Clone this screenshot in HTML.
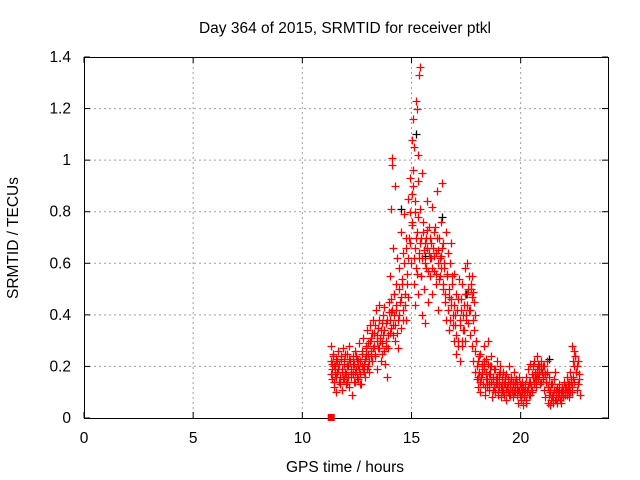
<!DOCTYPE html>
<html><head><meta charset="utf-8"><style>
html,body{margin:0;padding:0;background:#fff;}
svg{display:block;font-family:"Liberation Sans",Arial,sans-serif;}
</style></head><body>
<svg id="chart" width="640" height="480" xmlns="http://www.w3.org/2000/svg">
<rect width="640" height="480" fill="#fff"/>
<text x="345" y="33" font-size="15.5" text-anchor="middle">Day 364 of 2015, SRMTID for receiver ptkl</text>
<text x="345" y="472" font-size="15.5" text-anchor="middle">GPS time / hours</text>
<text x="18" y="238" font-size="15.5" text-anchor="middle" transform="rotate(-90 18 238)">SRMTID / TECUs</text>
<g id="grid"></g>
<g id="axes"></g>
<g id="black-series"></g>
<g id="red-series"></g>
</svg>
<script>
const xTicks = [0, 5, 10, 15, 20];
const yTicks = [0, 0.2, 0.4, 0.6, 0.8, 1, 1.2, 1.4];
const yTickLabels = ["0", "0.2", "0.4", "0.6", "0.8", "1", "1.2", "1.4"];
const redT = [11.30,11.32,11.35,11.38,11.40,11.43,11.46,11.50,11.53,11.56,11.60,11.63,11.66,11.70,11.73,11.76,11.80,11.83,11.86,11.90,11.93,11.96,12.00,12.03,12.06,12.10,12.13,12.16,12.20,12.23,12.26,12.30,12.33,12.36,12.40,12.43,12.46,12.50,12.53,12.56,12.60,12.63,12.66,12.70,12.73,12.76,12.80,12.83,12.86,12.90,12.93,12.96,13.00,13.03,13.06,13.10,13.13,13.16,13.20,13.23,13.26,13.30,13.33,13.36,13.40,13.43,13.46,13.50,13.53,13.56,13.60,13.63,13.66,13.70,13.73,13.76,13.80,13.83,13.86,13.90,13.93,13.96,14.00,14.03,14.06,14.08,14.10,14.12,14.14,14.16,14.20,14.23,14.26,14.28,14.30,14.33,14.36,14.40,14.43,14.46,14.50,14.53,14.56,14.60,14.63,14.66,14.70,14.73,14.76,14.80,14.83,14.86,14.90,14.93,14.96,15.00,15.02,15.04,15.06,15.08,15.10,15.12,15.14,15.16,15.18,15.20,15.22,15.24,15.26,15.28,15.30,15.32,15.34,15.36,15.38,15.40,15.42,15.44,15.46,15.48,15.50,15.53,15.56,15.60,15.63,15.66,15.70,15.73,15.76,15.80,15.83,15.86,15.90,15.93,15.96,16.00,16.03,16.06,16.10,16.13,16.16,16.20,16.23,16.26,16.30,16.33,16.36,16.40,16.43,16.46,16.50,16.53,16.56,16.60,16.63,16.66,16.70,16.73,16.76,16.80,16.83,16.86,16.90,16.93,16.96,17.00,17.03,17.06,17.10,17.13,17.16,17.20,17.23,17.26,17.30,17.33,17.36,17.40,17.43,17.46,17.50,17.53,17.56,17.60,17.63,17.66,17.70,17.73,17.76,17.80,17.83,17.86,17.90,17.93,17.96,18.00,18.03,18.06,18.10,18.13,18.16,18.20,18.23,18.26,18.30,18.33,18.36,18.40,18.43,18.46,18.50,18.53,18.56,18.60,18.63,18.66,18.70,18.73,18.76,18.80,18.83,18.86,18.90,18.93,18.96,19.00,19.03,19.06,19.10,19.13,19.16,19.20,19.23,19.26,19.30,19.33,19.36,19.40,19.43,19.46,19.50,19.53,19.56,19.60,19.63,19.66,19.70,19.73,19.76,19.80,19.83,19.86,19.90,19.93,19.96,20.00,20.03,20.06,20.10,20.13,20.16,20.20,20.23,20.26,20.30,20.33,20.36,20.40,20.43,20.46,20.50,20.53,20.56,20.60,20.63,20.66,20.70,20.73,20.76,20.80,20.83,20.86,20.90,20.93,20.96,21.00,21.03,21.06,21.10,21.13,21.16,21.20,21.23,21.26,21.30,21.33,21.36,21.40,21.43,21.46,21.50,21.53,21.56,21.60,21.63,21.66,21.70,21.73,21.76,21.80,21.83,21.86,21.90,21.93,21.96,22.00,22.03,22.06,22.10,22.13,22.16,22.20,22.23,22.26,22.30,22.33,22.36,22.40,22.43,22.46,22.50,22.53,22.56,22.60,22.63,22.66,22.70];
const redV = [0.22,0.28,0.15,0.19,0.25,0.12,0.20,0.17,0.23,0.10,0.18,0.26,0.14,0.21,0.16,0.24,0.11,0.19,0.27,0.15,0.22,0.18,0.13,0.25,0.20,0.16,0.28,0.12,0.22,0.18,0.09,0.24,0.17,0.21,0.14,0.26,0.19,0.23,0.15,0.20,0.29,0.17,0.22,0.13,0.25,0.19,0.31,0.21,0.16,0.27,0.24,0.34,0.20,0.29,0.18,0.36,0.26,0.31,0.22,0.38,0.28,0.33,0.24,0.42,0.30,0.19,0.35,0.27,0.44,0.31,0.22,0.37,0.29,0.40,0.26,0.34,0.21,0.30,0.16,0.38,0.27,0.45,0.33,0.55,0.41,0.81,0.98,1.01,0.66,0.36,0.48,0.30,0.90,0.52,0.42,0.62,0.27,0.38,0.58,0.45,0.72,0.35,0.52,0.64,0.42,0.79,0.48,0.38,0.66,0.56,0.85,0.47,0.70,0.93,0.60,0.87,1.08,0.76,0.96,1.16,0.52,1.05,0.66,0.44,0.80,1.23,0.58,1.20,0.72,0.92,1.02,0.48,0.64,1.33,0.81,1.36,0.55,0.70,0.95,0.40,0.62,0.76,0.50,0.68,0.37,0.58,0.73,0.84,0.45,0.64,0.55,0.70,0.62,0.82,0.48,0.66,0.57,0.74,0.52,0.64,0.88,0.60,0.42,0.70,0.55,0.76,0.63,0.91,0.50,0.68,0.58,0.45,0.72,0.38,0.55,0.64,0.47,0.34,0.60,0.44,0.68,0.52,0.40,0.30,0.56,0.36,0.48,0.25,0.42,0.30,0.54,0.22,0.38,0.46,0.28,0.52,0.34,0.44,0.30,0.58,0.40,0.60,0.48,0.37,0.55,0.42,0.32,0.50,0.28,0.38,0.22,0.34,0.26,0.18,0.30,0.15,0.22,0.12,0.18,0.25,0.10,0.16,0.21,0.13,0.28,0.19,0.09,0.15,0.23,0.12,0.30,0.17,0.11,0.20,0.14,0.24,0.08,0.16,0.12,0.19,0.10,0.15,0.22,0.13,0.09,0.17,0.12,0.20,0.08,0.14,0.11,0.18,0.09,0.13,0.16,0.07,0.12,0.15,0.10,0.20,0.13,0.09,0.16,0.11,0.14,0.08,0.18,0.12,0.10,0.15,0.13,0.06,0.11,0.16,0.09,0.12,0.07,0.14,0.05,0.10,0.08,0.13,0.06,0.16,0.11,0.19,0.09,0.14,0.21,0.12,0.17,0.10,0.20,0.14,0.22,0.16,0.12,0.19,0.24,0.15,0.20,0.17,0.13,0.22,0.18,0.15,0.20,0.11,0.17,0.08,0.14,0.22,0.06,0.12,0.09,0.05,0.11,0.07,0.13,0.06,0.09,0.15,0.18,0.07,0.11,0.06,0.10,0.08,0.13,0.07,0.10,0.06,0.12,0.08,0.11,0.14,0.09,0.12,0.16,0.10,0.13,0.08,0.12,0.18,0.15,0.10,0.28,0.22,0.26,0.14,0.24,0.18,0.11,0.20,0.13,0.17,0.09];
const redT2 = [11.31,11.36,11.41,11.45,11.51,11.55,11.61,11.65,11.71,11.75,11.81,11.85,11.91,11.95,12.01,12.05,12.11,12.15,12.21,12.25,12.31,12.35,12.41,12.45,12.51,12.55,12.61,12.65,12.71,12.75,12.81,12.85,12.91,12.95,13.01,13.05,13.11,13.15,13.21,13.25,13.31,13.35,13.41,13.45,13.51,13.55,13.61,13.65,13.71,13.75,13.81,13.85,13.91,13.95,14.01,14.04,14.07,14.11,14.15,14.18,14.21,14.25,14.31,14.35,14.41,14.45,14.51,14.55,14.61,14.65,14.71,14.75,14.81,14.85,14.91,14.95,15.01,15.05,15.11,15.15,15.21,15.25,15.31,15.35,15.41,15.45,15.51,15.55,15.61,15.65,15.71,15.75,15.81,15.85,15.91,15.95,16.01,16.05,16.11,16.15,16.21,16.25,16.31,16.35,16.41,16.45,16.51,16.55,16.61,16.65,16.71,16.75,16.81,16.85,16.91,16.95,17.01,17.05,17.11,17.15,17.21,17.25,17.31,17.35,17.41,17.45,17.51,17.55,17.61,17.65,17.71,17.75,17.78,17.81,17.85,17.91,17.95,18.01,18.05,18.11,18.15,18.21,18.25,18.31,18.35,18.41,18.45,18.51,18.55,18.61,18.65,18.71,18.75,18.81,18.85,18.91,18.95,19.01,19.05,19.11,19.15,19.21,19.25,19.31,19.35,19.41,19.45,19.51,19.55,19.61,19.65,19.71,19.75,19.81,19.85,19.91,19.95,20.01,20.05,20.11,20.15,20.21,20.25,20.31,20.35,20.41,20.45,20.51,20.55,20.61,20.65,20.71,20.75,20.81,20.85,20.91,20.95,21.01,21.05,21.11,21.15,21.21,21.25,21.31,21.35,21.41,21.45,21.51,21.55,21.61,21.65,21.71,21.75,21.81,21.85,21.91,21.95,22.01,22.05,22.11,22.15,22.21,22.25,22.31,22.35,22.41,22.45,22.51,22.55,22.61,22.65];
const redV2 = [0.17,0.21,0.24,0.14,0.20,0.16,0.22,0.19,0.13,0.23,0.18,0.15,0.21,0.25,0.17,0.14,0.20,0.23,0.16,0.19,0.21,0.14,0.18,0.24,0.16,0.22,0.19,0.13,0.20,0.26,0.18,0.23,0.28,0.19,0.25,0.22,0.30,0.24,0.33,0.27,0.25,0.36,0.32,0.27,0.38,0.30,0.34,0.25,0.32,0.43,0.28,0.37,0.32,0.41,0.38,0.46,0.35,0.42,0.32,0.48,0.40,0.36,0.44,0.33,0.50,0.40,0.47,0.54,0.38,0.60,0.44,0.70,0.52,0.62,0.80,0.68,0.75,0.90,0.62,0.84,0.70,0.56,0.78,0.62,0.68,0.55,0.72,0.65,0.60,0.70,0.66,0.57,0.74,0.62,0.68,0.58,0.72,0.63,0.56,0.70,0.65,0.54,0.62,0.58,0.66,0.52,0.60,0.48,0.56,0.42,0.50,0.38,0.46,0.55,0.36,0.44,0.40,0.32,0.46,0.28,0.36,0.42,0.30,0.40,0.34,0.48,0.38,0.44,0.50,0.42,0.52,0.47,0.55,0.49,0.45,0.40,0.30,0.20,0.16,0.24,0.14,0.20,0.17,0.22,0.12,0.18,0.15,0.21,0.13,0.17,0.20,0.11,0.15,0.19,0.13,0.16,0.10,0.14,0.18,0.12,0.15,0.10,0.13,0.17,0.11,0.14,0.09,0.12,0.15,0.11,0.13,0.10,0.14,0.12,0.09,0.11,0.13,0.08,0.10,0.12,0.09,0.11,0.07,0.10,0.12,0.09,0.14,0.11,0.16,0.13,0.18,0.15,0.17,0.21,0.18,0.14,0.19,0.16,0.20,0.17,0.14,0.18,0.12,0.16,0.10,0.13,0.08,0.11,0.07,0.10,0.12,0.08,0.10,0.07,0.09,0.11,0.08,0.10,0.12,0.09,0.11,0.13,0.10,0.14,0.12,0.16,0.20,0.24,0.18,0.22,0.15,0.12];
const blackT = [14.5,15.2,15.6,16.4,17.5,21.3];
const blackV = [0.81,1.10,0.63,0.78,0.48,0.23];
const zeroT = [11.3];
const zeroV = [0];

const NS = "http://www.w3.org/2000/svg";
const L = 84, R = 608, T = 57, B = 418;
const xMin = 0, xMax = 24, yMin = 0, yMax = 1.4;
function xs(v){ return L + (v - xMin) / (xMax - xMin) * (R - L); }
function ys(v){ return B - (v - yMin) / (yMax - yMin) * (B - T); }
function mk(tag, attrs, parent){ const e = document.createElementNS(NS, tag); for (const k in attrs) e.setAttribute(k, attrs[k]); parent.appendChild(e); return e; }

const grid = document.getElementById('grid');
const axes = document.getElementById('axes');
yTicks.forEach((v, i) => {
  const y = ys(v);
  if (v > yMin && v < yMax) {
    const g = mk('line', {x1:L, x2:R, y1:y, y2:y, stroke:'#a0a0a0', 'stroke-dasharray':'2,3', 'stroke-width':1}, grid);
    
    
  }
  mk('line', {x1:L, x2:L+6, y1:y, y2:y, stroke:'#000'}, axes);
  mk('line', {x1:R, x2:R-6, y1:y, y2:y, stroke:'#000'}, axes);
  const t = mk('text', {x:L-13, y:y+5, 'font-size':15.5, 'text-anchor':'end'}, axes);
  t.textContent = yTickLabels[i];
  
  
});
xTicks.forEach(v => {
  const x = xs(v);
  if (v > xMin) {
    const g = mk('line', {x1:x, x2:x, y1:T, y2:B, stroke:'#a0a0a0', 'stroke-dasharray':'2,3', 'stroke-width':1}, grid);
    
    
  }
  mk('line', {x1:x, x2:x, y1:B, y2:B-6, stroke:'#000'}, axes);
  mk('line', {x1:x, x2:x, y1:T, y2:T+6, stroke:'#000'}, axes);
  const t = mk('text', {x:x, y:B+25, 'font-size':15.5, 'text-anchor':'middle'}, axes);
  t.textContent = String(v);
  
  
});
const frame = mk('rect', {x:L+0.5, y:T+0.5, width:R-L, height:B-T, fill:'none', stroke:'#000'}, axes);



function plus(parent, t, v, color, name){
  const x = Math.round(xs(t)) + 0.5, y = Math.round(ys(v)) + 0.5;
  const p = mk('path', {d:`M${x-4} ${y}H${x+4}M${x} ${y-4}V${y+4}`, stroke:color, 'stroke-width':1.3, fill:'none'}, parent);
  
  
}
const bg = document.getElementById('black-series');
blackT.forEach((t, i) => plus(bg, t, blackV[i], '#000', 'black-point'));
const rg = document.getElementById('red-series');
redT.forEach((t, i) => plus(rg, t, redV[i], '#ff0000', 'red-point'));
redT2.forEach((t, i) => plus(rg, t, redV2[i], '#ff0000', 'red-point'));
zeroT.forEach((t, i) => {
  const s = mk('rect', {x:xs(t)-3, y:ys(zeroV[i])-4, width:7, height:7, fill:'#ff0000'}, rg);
  
  
});
</script>
</body></html>
